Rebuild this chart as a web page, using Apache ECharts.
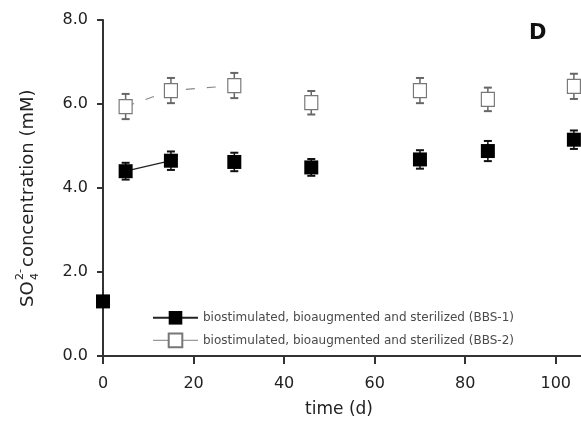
<!DOCTYPE html>
<html><head><meta charset="utf-8">
<script src="https://cdn.jsdelivr.net/npm/echarts@6/dist/echarts.min.js"></script>
<style>html,body{margin:0;padding:0;background:#fff}#c{width:581px;height:422px}</style>
</head><body><div id="c"></div>
<script>
const days1 = [0, 5, 15, 29, 46, 70, 85, 104];
const bbs1 = [1.3, 4.4, 4.65, 4.62, 4.49, 4.68, 4.88, 5.15];
const err1 = [0, 0.2, 0.22, 0.22, 0.2, 0.22, 0.24, 0.22];
const days2 = [5, 15, 29, 46, 70, 85, 104];
const bbs2 = [5.94, 6.32, 6.44, 6.03, 6.32, 6.11, 6.42];
const err2 = [0.3, 0.3, 0.3, 0.28, 0.3, 0.28, 0.3];
const line1Days = [5, 15];
const line2Days = [5, 15, 29];
const yTicks = [0, 2, 4, 6, 8];
const xTicks = [0, 20, 40, 60, 80, 100];
const name1 = 'biostimulated, bioaugmented and sterilized (BBS-1)';
const name2 = 'biostimulated, bioaugmented and sterilized (BBS-2)';

const pts1 = days1.map((d, i) => [d, bbs1[i]]);
const pts2 = days2.map((d, i) => [d, bbs2[i]]);
const errData1 = days1.map((d, i) => [d, bbs1[i] - err1[i], bbs1[i] + err1[i]]).filter(e => e[2] > e[1]);
const errData2 = days2.map((d, i) => [d, bbs2[i] - err2[i], bbs2[i] + err2[i]]);
const seg1 = pts1.filter(p => line1Days.includes(p[0]));
const seg2 = pts2.filter(p => line2Days.includes(p[0]));

const FONT = '"DejaVu Sans", Verdana, sans-serif';

function errRender(color) {
  return function (params, api) {
    const x = api.value(0);
    const lo = api.coord([x, api.value(1)]);
    const hi = api.coord([x, api.value(2)]);
    const cw = 4;
    return { type: 'group', children: [
      { type: 'line', shape: { x1: lo[0], y1: lo[1], x2: hi[0], y2: hi[1] }, style: { stroke: color, lineWidth: 1.5 } },
      { type: 'line', shape: { x1: lo[0] - cw, y1: lo[1], x2: lo[0] + cw, y2: lo[1] }, style: { stroke: color, lineWidth: 2 } },
      { type: 'line', shape: { x1: hi[0] - cw, y1: hi[1], x2: hi[0] + cw, y2: hi[1] }, style: { stroke: color, lineWidth: 2 } }
    ]};
  };
}

const chart = echarts.init(document.getElementById('c'), null, { renderer: 'canvas' });
chart.setOption({
  animation: false,
  backgroundColor: '#fff',
  grid: { left: 103, top: 20, width: 489, height: 336, containLabel: false, outerBoundsMode: 'none' },
  xAxis: {
    type: 'value', min: 0, max: 108, interval: 20,
    axisLine: { show: true, lineStyle: { color: '#333', width: 2 } },
    axisTick: { show: true, length: 8, inside: false, lineStyle: { color: '#333', width: 2 } },
    axisLabel: { color: '#222', fontSize: 16, fontFamily: FONT, margin: 20,
      formatter: v => xTicks.includes(v) ? String(v) : '' },
    splitLine: { show: false }
  },
  yAxis: {
    type: 'value', min: 0, max: 8, interval: 2,
    axisLine: { show: true, lineStyle: { color: '#333', width: 2 } },
    axisTick: { show: true, length: 6, lineStyle: { color: '#333', width: 2 } },
    axisLabel: { color: '#222', fontSize: 16, fontFamily: FONT, margin: 15,
      formatter: v => yTicks.includes(v) ? v.toFixed(1) : '' },
    splitLine: { show: false }
  },
  legend: {
    left: 147, top: 306, orient: 'vertical', itemGap: 8,
    itemWidth: 45, itemHeight: 17,
    textStyle: { fontSize: 12, color: '#4a4a4a', fontFamily: FONT },
    data: [
      { name: name1 },
      { name: name2, lineStyle: { type: 'solid', color: '#999', width: 1.2 } }
    ]
  },
  graphic: [
    { type: 'text', left: 529, top: 23, style: { text: 'D', font: 'bold 21px ' + FONT, fill: '#111' } },
    { type: 'text', x: 339, y: 410, style: { text: 'time (d)', font: '17px ' + FONT, fill: '#222', textAlign: 'center', textVerticalAlign: 'middle' } },
    { type: 'group', x: 28, y: 307, rotation: Math.PI / 2, children: [
      { type: 'text', x: 0, y: 0, style: { text: 'SO', font: '18px ' + FONT, fill: '#222', textAlign: 'left', textVerticalAlign: 'middle' } },
      { type: 'text', x: 27, y: 7, style: { text: '4', font: '11px ' + FONT, fill: '#222', textAlign: 'left', textVerticalAlign: 'middle' } },
      { type: 'text', x: 27, y: -8, style: { text: '2-', font: '11px ' + FONT, fill: '#222', textAlign: 'left', textVerticalAlign: 'middle' } },
      { type: 'text', x: 40, y: 0, style: { text: 'concentration (mM)', font: '18px ' + FONT, fill: '#222', textAlign: 'left', textVerticalAlign: 'middle' } }
    ]}
  ],
  series: [
    { name: name1, type: 'line', data: seg1, symbol: 'rect', symbolSize: 14, showSymbol: false,
      itemStyle: { color: '#000', opacity: 1 }, lineStyle: { color: '#222', width: 1.3 }, z: 2 },
    { name: name2, type: 'line', data: seg2, symbol: 'rect', symbolSize: 13, showSymbol: false,
      itemStyle: { color: '#fff', borderColor: '#777', borderWidth: 1.2, opacity: 1 },
      lineStyle: { color: '#888', width: 1.2, type: [9, 12] }, z: 2 },
    { type: 'custom', renderItem: errRender('#111'), data: errData1, encode: { x: 0, y: [1, 2] }, z: 3 },
    { type: 'custom', renderItem: errRender('#666'), data: errData2, encode: { x: 0, y: [1, 2] }, z: 3 },
    { name: name1, type: 'scatter', data: pts1, symbol: 'rect', symbolSize: 14,
      itemStyle: { color: '#000', opacity: 1 }, z: 5 },
    { name: name2, type: 'scatter', data: pts2, symbol: 'rect', symbolSize: [13, 14],
      itemStyle: { color: '#fff', borderColor: '#777', borderWidth: 1.2, opacity: 1 }, z: 5 }
  ]
});
</script></body></html>
